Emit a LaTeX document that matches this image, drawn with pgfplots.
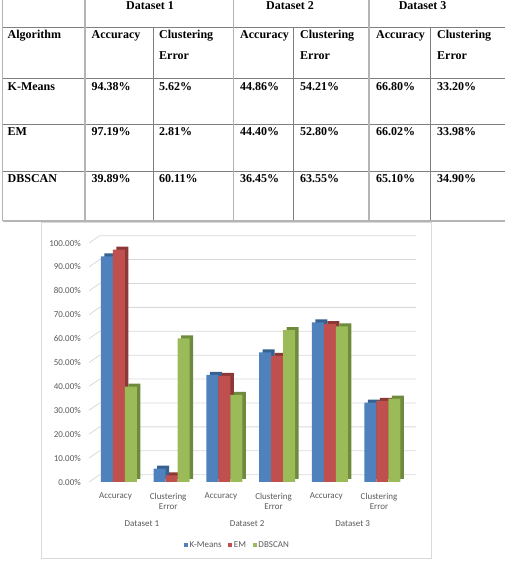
\documentclass[border=0pt]{standalone}
\usepackage{fontspec}
\setmainfont{Liberation Serif}
\newfontfamily\carl{Carlito}
\usepackage{pgfplots}
\pgfplotsset{compat=1.18}
\definecolor{kblue}{HTML}{4F81BD}
\definecolor{kbluedk}{HTML}{37618F}
\definecolor{kred}{HTML}{C0504D}
\definecolor{kreddk}{HTML}{8C3836}
\definecolor{kgreen}{HTML}{9BBB59}
\definecolor{kgreendk}{HTML}{6E8A3C}
\definecolor{gridc}{HTML}{D9D9D9}
\definecolor{labc}{HTML}{595959}
\definecolor{tdark}{HTML}{7F7F7F}
\definecolor{tlight}{HTML}{B4B4B4}
\begin{document}
\begin{tikzpicture}
\useasboundingbox (0,0) rectangle (505pt,563pt);
% ---- table lines ----
\begin{scope}[draw=tdark, line width=0.8pt]
\draw (2.5pt,536pt) -- (505pt,536pt);
\draw (2.5pt,485pt) -- (505pt,485pt);
\draw (2.5pt,438.5pt) -- (505pt,438.5pt);
\draw (2.5pt,392pt) -- (505pt,392pt);
\draw (153.5pt,536pt) -- (153.5pt,342pt);
\draw (293.5pt,536pt) -- (293.5pt,342pt);
\draw (430.5pt,536pt) -- (430.5pt,342pt);
\end{scope}
\begin{scope}[draw=tlight, line width=1.5pt]
\draw (2.5pt,342pt) -- (505pt,342pt);
\draw (2.5pt,563pt) -- (2.5pt,342pt);
\draw (85pt,563pt) -- (85pt,342pt);
\draw (233.5pt,563pt) -- (233.5pt,342pt);
\draw (369pt,563pt) -- (369pt,342pt);
\end{scope}
% ---- table text ----
\begin{scope}[every node/.style={font=\fontsize{12}{14}\selectfont\bfseries, inner sep=0pt, anchor=base west}]
\node[anchor=base] at (150pt,553.2pt) {Dataset 1};
\node[anchor=base] at (290pt,553.2pt) {Dataset 2};
\node[anchor=base] at (422.6pt,553.2pt) {Dataset 3};
\node at (7.5pt,524pt) {Algorithm};
\node at (91.5pt,524pt) {Accuracy};
\node at (159pt,524pt) {Clustering};
\node at (240pt,524pt) {Accuracy};
\node at (300pt,524pt) {Clustering};
\node at (376pt,524pt) {Accuracy};
\node at (437pt,524pt) {Clustering};
\node at (159pt,503pt) {Error};
\node at (300pt,503pt) {Error};
\node at (437pt,503pt) {Error};
\node at (7.5pt,472.5pt) {K-Means};
\node at (91.5pt,472.5pt) {94.38\%};
\node at (159pt,472.5pt) {5.62\%};
\node at (240pt,472.5pt) {44.86\%};
\node at (300pt,472.5pt) {54.21\%};
\node at (376pt,472.5pt) {66.80\%};
\node at (437pt,472.5pt) {33.20\%};
\node at (7.5pt,427pt) {EM};
\node at (91.5pt,427pt) {97.19\%};
\node at (159pt,427pt) {2.81\%};
\node at (240pt,427pt) {44.40\%};
\node at (300pt,427pt) {52.80\%};
\node at (376pt,427pt) {66.02\%};
\node at (437pt,427pt) {33.98\%};
\node at (7.5pt,380.5pt) {DBSCAN};
\node at (91.5pt,380.5pt) {39.89\%};
\node at (159pt,380.5pt) {60.11\%};
\node at (240pt,380.5pt) {36.45\%};
\node at (300pt,380.5pt) {63.55\%};
\node at (376pt,380.5pt) {65.10\%};
\node at (437pt,380.5pt) {34.90\%};
\end{scope}
% ---- chart frame ----
\draw[gridc, line width=0.8pt] (41pt,5pt) rectangle (431.5pt,340.5pt);
\begin{axis}[
  scale only axis, x=52.7pt, y=2.39pt,
  xmin=-0.6, xmax=5.6, ymin=0, ymax=100,
  at={(87.38pt,81pt)}, anchor=south west,
  clip=false, axis line style={draw=none}, major tick length=0pt,
  ybar, bar width=12pt,
  xtick={0,1,2,3,4,5},
  xticklabels={Accuracy,{Clustering\\Error},Accuracy,{Clustering\\Error},Accuracy,{Clustering\\Error}},
  xticklabel style={align=center, font=\carl\fontsize{9}{10.3}\selectfont, text=labc, xshift=-3.5pt, anchor=north, inner sep=0pt, yshift=-11pt},
  ytick={0,10,20,30,40,50,60,70,80,90,100},
  yticklabels={0.00\%,10.00\%,20.00\%,30.00\%,40.00\%,50.00\%,60.00\%,70.00\%,80.00\%,90.00\%,100.00\%},
  yticklabel style={font=\carl\fontsize{9}{10}\selectfont, text=labc, anchor=east, inner sep=0pt, xshift=-6.4pt},
  legend columns=3,
  legend style={at={(0.458,-0.2636)}, anchor=center, draw=none, fill=none,
    font=\carl\fontsize{9}{10}\selectfont, text=labc,
    nodes={inner sep=1.5pt},
    /tikz/every even column/.append style={column sep=5pt}},
  sq/.style={legend image code/.code={\fill[##1] (0pt,-2.2pt) rectangle (4.4pt,2.2pt);}},
]
\pgfplotsinvokeforeach{0,10,20,30,40,50,60,70,80,90,100}{
  \draw[gridc, line width=0.8pt] (axis cs:-0.569,#1) -- ([xshift=10.7pt,yshift=7.3pt]axis cs:-0.569,#1) -- ([yshift=7.3pt]axis cs:5.636,#1);
}
\addplot[fill=kbluedk, draw=none, bar shift=-12pt, forget plot, xshift=3.5pt, yshift=3pt]
  coordinates {(0,94.38) (1,5.62) (2,44.86) (3,54.21) (4,66.80) (5,33.20)};
\addplot[fill=kblue, draw=none, bar shift=-12pt, sq]
  coordinates {(0,94.38) (1,5.62) (2,44.86) (3,54.21) (4,66.80) (5,33.20)};
\addlegendentry{K-Means}
\addplot[fill=kreddk, draw=none, bar shift=0pt, forget plot, xshift=3.5pt, yshift=3pt]
  coordinates {(0,97.19) (1,2.81) (2,44.40) (3,52.80) (4,66.02) (5,33.98)};
\addplot[fill=kred, draw=none, bar shift=0pt, sq]
  coordinates {(0,97.19) (1,2.81) (2,44.40) (3,52.80) (4,66.02) (5,33.98)};
\addlegendentry{EM}
\addplot[fill=kgreendk, draw=none, bar shift=12pt, forget plot, xshift=3.5pt, yshift=3pt]
  coordinates {(0,39.89) (1,60.11) (2,36.45) (3,63.55) (4,65.10) (5,34.90)};
\addplot[fill=kgreen, draw=none, bar shift=12pt, sq]
  coordinates {(0,39.89) (1,60.11) (2,36.45) (3,63.55) (4,65.10) (5,34.90)};
\addlegendentry{DBSCAN}
\node[font=\carl\fontsize{9}{10}\selectfont, text=labc, anchor=base] at ([xshift=-3.5pt,yshift=-44.3pt]axis cs:0.5,0) {Dataset 1};
\node[font=\carl\fontsize{9}{10}\selectfont, text=labc, anchor=base] at ([xshift=-3.5pt,yshift=-44.3pt]axis cs:2.5,0) {Dataset 2};
\node[font=\carl\fontsize{9}{10}\selectfont, text=labc, anchor=base] at ([xshift=-3.5pt,yshift=-44.3pt]axis cs:4.5,0) {Dataset 3};
\end{axis}
\end{tikzpicture}
\end{document}
